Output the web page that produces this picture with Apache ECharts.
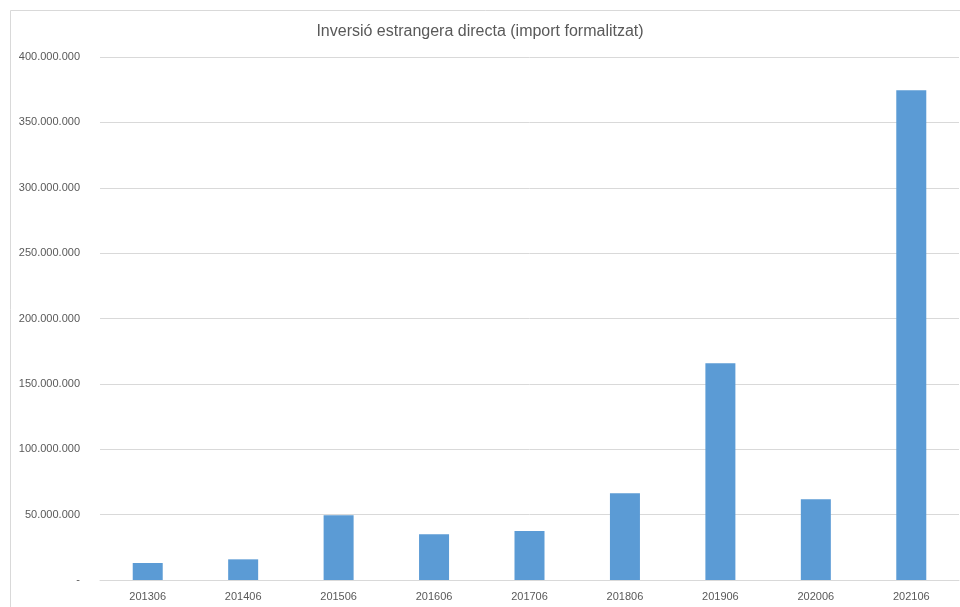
<!DOCTYPE html>
<html><head><meta charset="utf-8">
<script src="https://cdn.jsdelivr.net/npm/echarts@6/dist/echarts.min.js"></script>
<style>html,body{margin:0;padding:0;background:#fff}#c{width:960px;height:607px}</style>
</head><body><div id="c"></div>
<script>
const categories = ['201306','201406','201506','201606','201706','201806','201906','202006','202106'];
const values = [13000000, 15800000, 49500000, 35000000, 37500000, 66300000, 165700000, 61700000, 374500000];
const titleText = 'Inversió estrangera directa (import formalitzat)';

function fmt(v){
  if (v === 0) return '-';
  return String(Math.round(v)).replace(/\B(?=(\d{3})+(?!\d))/g, '.');
}
const chart = echarts.init(document.getElementById('c'), null, {renderer:'canvas'});
chart.setOption({
  animation:false,
  backgroundColor:'#fff',
  title:{text:titleText,left:'center',top:19,textStyle:{fontFamily:'Liberation Sans, sans-serif',fontSize:16,fontWeight:'normal',color:'#595959'}},
  graphic:[{type:'rect',shape:{x:10.5,y:10.5,width:960,height:620},style:{fill:'none',stroke:'#d9d9d9',lineWidth:1},silent:true}],
  grid:{left:100,right:1,top:57,bottom:27},
  xAxis:{type:'category',data:categories,
    axisLine:{lineStyle:{color:'#d9d9d9'}},axisTick:{show:false},
    axisLabel:{color:'#595959',fontSize:11,fontFamily:'Liberation Sans, sans-serif',margin:11}},
  yAxis:{type:'value',min:0,max:400000000,interval:50000000,
    axisLine:{show:false},axisTick:{show:false},
    splitLine:{lineStyle:{color:'#d9d9d9'}},
    axisLabel:{color:'#595959',fontSize:11,fontFamily:'Liberation Sans, sans-serif',margin:20,formatter:fmt}},
  series:[{type:'bar',data:values,barWidth:30,itemStyle:{color:'#5b9bd5'}}]
});
</script></body></html>
